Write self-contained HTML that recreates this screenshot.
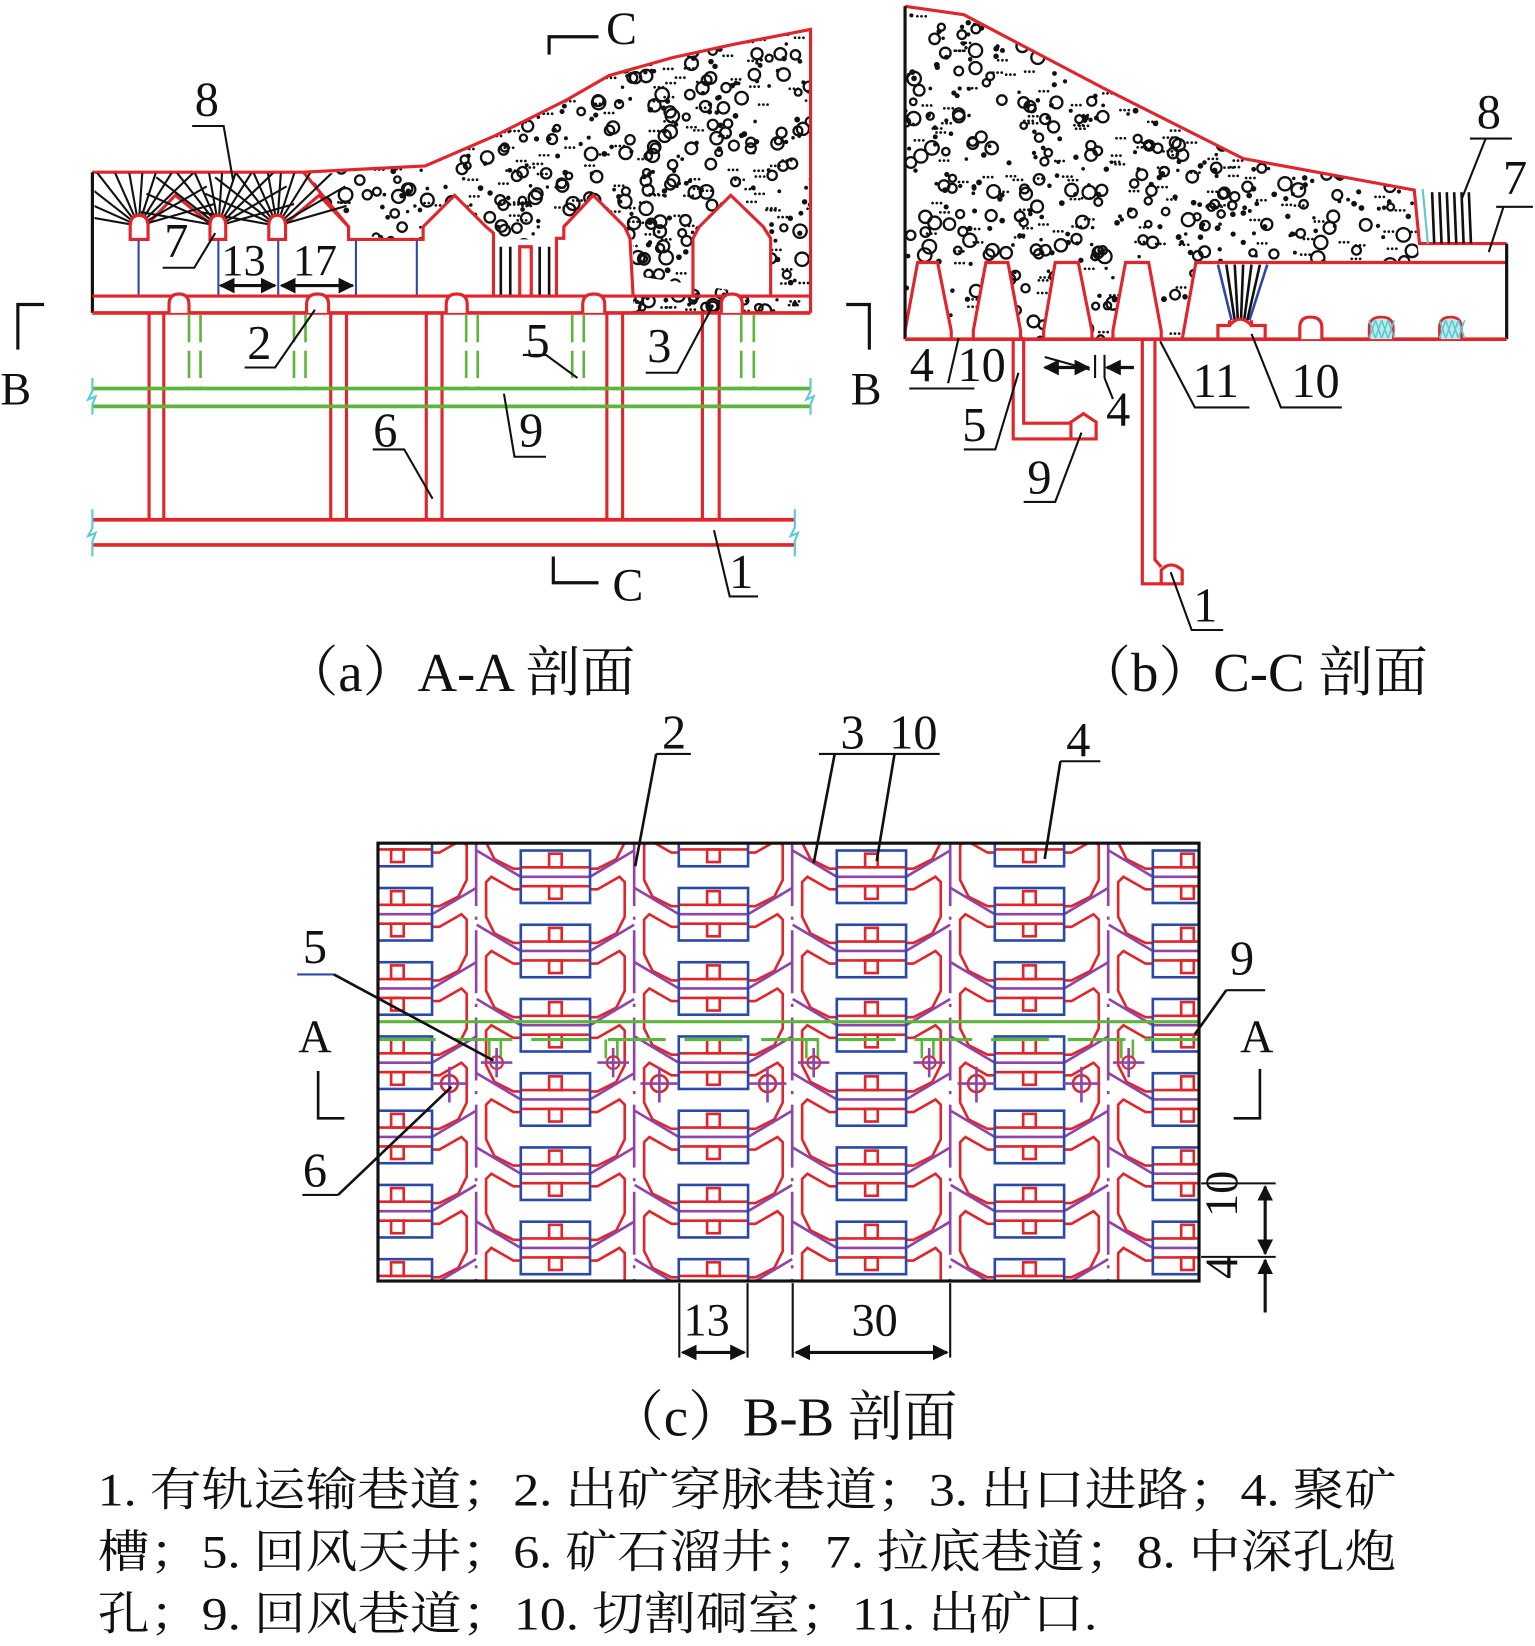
<!DOCTYPE html>
<html><head><meta charset="utf-8">
<style>
html,body{margin:0;padding:0;background:#fff;}
svg{display:block;}
text{font-family:"Liberation Serif","Noto Serif CJK SC",serif;fill:#111;}
</style></head>
<body>
<svg id="s" xmlns="http://www.w3.org/2000/svg" width="1535" height="1646" viewBox="0 0 1462 1567.6" preserveAspectRatio="none">
<defs>
<marker id="ar" viewBox="0 0 10 10" refX="9" refY="5" markerWidth="5" markerHeight="5" orient="auto-start-reverse"><path d="M0,0L10,5L0,10z" fill="#111"/></marker>
<clipPath id="rockA"><polygon points="289,164 405,158 470,130 540,95 580,72 640,55 700,42 772,28 772,298 603,298 603,228 332,228 332,216"/></clipPath>
<clipPath id="rockB"><polygon points="862,6 918,14 1053,85 1184,151 1347,181 1350,232 1352,250 1139,250 1126,323 862,323"/></clipPath>
<clipPath id="fanA"><rect x="90" y="165" width="240" height="115"/></clipPath>
<clipPath id="frameC"><rect x="360" y="803" width="782" height="417"/></clipPath>
</defs>
<g id="g"></g>
</svg>
<script>
const NS="http://www.w3.org/2000/svg";
const G=document.getElementById('g');
function el(t,a,p){const e=document.createElementNS(NS,t);for(const k in a)e.setAttribute(k,a[k]);(p||G).appendChild(e);return e;}
function L(x1,y1,x2,y2,c,w,p,extra){const a={x1,y1,x2,y2,stroke:c||'#111','stroke-width':w||2};if(extra)Object.assign(a,extra);return el('line',a,p);}
function P(pts,c,w,f,p,closed){return el(closed?'polygon':'polyline',{points:pts,stroke:c||'#111','stroke-width':w||2,fill:f||'none','stroke-linejoin':'miter'},p);}
function T(s,x,y,sz,anc,p,extra){const a={x,y,'font-size':sz||46,'text-anchor':anc||'middle'};if(extra)Object.assign(a,extra);const e=el('text',a,p);e.textContent=s;return e;}
const R='#e0252b',B='#2b4aa8',GR='#5db53c',PU='#8e44a8',CY='#5cc8d0';
let seed=7;function rnd(){seed=(seed*16807)%2147483647;return seed/2147483647;}
function rock(clip,x0,y0,w,h,n){
  const g=el('g',{'clip-path':'url(#'+clip+')'});
  for(let i=0;i<n;i++){const x=x0+rnd()*w,y=y0+rnd()*h,t=rnd();
    if(t<0.35){el('circle',{cx:x,cy:y,r:3+rnd()*3.5,fill:'none',stroke:'#111','stroke-width':2.2},g);}
    else if(t<0.75){el('circle',{cx:x,cy:y,r:1.6+rnd()*1.2,fill:'#111'},g);}
    else{for(let j=0;j<3;j++)el('circle',{cx:x+j*4,cy:y,r:1.3,fill:'#111'},g);}
  }
}
/* ===== Panel (a) ===== */
rock('rockA',289,28,483,270,900);
P('141,213 167,186 200,213','none',0,'#fff',null,true);
P('272,213 304,186 332,216 332,228 403,228 403,216 433,186 463,216 470,222 470,282 530,282 530,227 537,227 537,216 565,186 595,216 600,227 603,282 660,282 660,227 666,216 696,186 727,216 734,227 734,282','none',0,'#fff',null,true);
P('289,164 405,158 470,130 540,95 580,72 640,55 700,42 772,28 772,298',R,3);
L(88,164,289,164,R,3);
L(88,164,88,298,'#111',3);
L(289,164,332,216,R,3);
P('141,213 167,186 200,213',R,3);
P('272,213 304,186 332,216 332,228 403,228 403,216 433,186 463,216 470,222 470,282',R,3);
P('530,282 530,227 537,227 537,216 565,186 595,216 600,227 603,282',R,3);
P('660,282 660,227 666,216 696,186 727,216 734,227 734,282',R,3);
[477,486,514,523].forEach(x=>L(x,235,x,282,'#111',2.5));
P('495,282 495,235 506,235 506,282',R,3);
const fg=el('g',{'clip-path':'url(#fanA)'});
[132,208,264].forEach(cx=>{for(let a=-170;a<=-10;a+=14){const r=a*Math.PI/180;L(cx,215,cx+75*Math.cos(r),215+75*Math.sin(r),'#111',2,fg);}});
[[124,141],[200,215],[256,272]].forEach(([a,b])=>{const m=(a+b)/2,r=(b-a)/2;el('path',{d:`M${a},228 L${a},${213+r*0.3} Q${a},${205} ${m},205 Q${b},205 ${b},${213+r*0.3} L${b},228 Z`,fill:'#fff',stroke:R,'stroke-width':3});});
[132,208,265,339,397].forEach(x=>L(x,229,x,282,B,2));
L(88,282,772,282,R,3);L(88,298,772,298,R,3.5);
[[161,180],[292,313],[425,445],[555,576],[687,707]].forEach(([a,b])=>{el('path',{d:`M${a},298 L${a},290 Q${a},280 ${(a+b)/2},280 Q${b},280 ${b},290 L${b},298`,fill:'#fff',stroke:R,'stroke-width':3});});
[[142,156],[315,330],[406,421],[578,593],[669,685]].forEach(([a,b])=>{L(a,298,a,495,R,3);L(b,298,b,495,R,3);});
[[180,191],[280,291],[444,455],[545,556],[706,718]].forEach(([a,b])=>{[a,b].forEach(x=>L(x,300,x,370,GR,2.5,null,{'stroke-dasharray':'26 8'}));});
L(88,370,772,370,GR,3.5);L(88,387,772,387,GR,3.5);
L(88,495,757,495,R,3.5);L(88,519,757,519,R,3.5);
[[88,360,395],[772,360,395],[88,485,530],[757,485,530]].forEach(([x,a,b])=>{P(`${x},${a} ${x},${(a+b)/2-5} ${x-4},${(a+b)/2+3} ${x+3},${(a+b)/2} ${x},${(a+b)/2+8} ${x},${b}`,CY,2);});
P('17,333 17,290 42,290','#111',3);T('B',15,385,44);
P('828,333 828,290 806,290','#111',3);T('B',825,385,44);
P('523,52 523,35 570,35','#111',3);T('C',592,42,44);
P('527,530 527,555 570,555','#111',3);T('C',598,572,44);
T('8',197,110);P('183,120 213,120 222,172','#111',2);
T('7',168,245);P('155,255 185,255 205,222','#111',2);
T('13',232,262,42);T('17',300,262,42);
L(210,272,262,272,'#111',3,null,{'marker-start':'url(#ar)','marker-end':'url(#ar)'});
L(268,272,336,272,'#111',3,null,{'marker-start':'url(#ar)','marker-end':'url(#ar)'});
T('2',247,342);P('233,350 262,350 300,295','#111',2);
T('5',512,340);P('498,338 520,338 550,360','#111',2);
T('3',628,345);P('615,355 645,355 678,293','#111',2);
T('9',506,425);P('480,375 490,435 520,435','#111',2);
T('6',367,425);P('355,428 385,428 412,475','#111',2);
T('1',706,560);P('680,505 695,568 722,568','#111',2);
T('（a）A-A 剖面',270,658,52,'start',null,{textLength:335,lengthAdjust:'spacingAndGlyphs'});
/* ===== Panel (b) ===== */
rock('rockB',862,6,490,320,850);
const pillars=[[862,315,874,250,893,250,906,315],[927,315,939,250,960,250,972,315],[994,315,1005,250,1027,250,1040,315],[1060,315,1072,250,1094,250,1106,315]];
pillars.forEach(p=>{P(`${p[0]},323 ${p[0]},${p[1]} ${p[2]},${p[3]} ${p[4]},${p[5]} ${p[6]},${p[7]} ${p[6]},323`,R,3,'#fff',null,false);});
el('polygon',{points:'1126,323 1139,250 1435,250 1435,323',fill:'#fff'});
P('1126,323 1139,250 1435,250',R,3);
P('862,6 918,14 1053,85 1184,151 1347,181 1352,232 1435,232',R,3);
L(1435,232,1435,323,'#111',3);L(862,6,862,323,'#111',3);
L(862,323,1435,323,R,3.5);
L(1355,180,1360,232,CY,2);
for(let i=0;i<6;i++)L(1364+i*7,183,1366+i*7,232,'#111',2.5);
L(1160,252,1173,305,B,2.5);L(1207,252,1190,305,B,2.5);
for(let i=0;i<5;i++)L(1168+i*8,252,1176+i*3,305,'#111',2.5);
P('1160,323 1160,310 1171,310 1171,305',R,3);P('1205,323 1205,310 1192,310 1192,305',R,3);
el('path',{d:'M1171,310 Q1181,298 1192,310',fill:'none',stroke:R,'stroke-width':3});
el('path',{d:'M1238,323 L1238,312 Q1238,302 1248,302 Q1259,302 1259,312 L1259,323',fill:'#fff',stroke:R,'stroke-width':3});
[[1304,1327],[1371,1392]].forEach(([a,b])=>{el('path',{d:`M${a},323 L${a},312 Q${a},302 ${(a+b)/2},302 Q${b},302 ${b},312 L${b},323`,fill:'#bfe9ec',stroke:R,'stroke-width':2.5});
 for(let k=0;k<4;k++){L(a+k*6,305,a+6+k*6,322,CY,1.5);L(a+6+k*6,305,a+k*6,322,CY,1.5);}});
P('965,323 965,418 1030,418',R,3);P('975,323 975,403 1020,403',R,3);
el('path',{d:'M1020,418 L1020,402 L1032,394 L1044,402 L1044,418 Z',fill:'#fff',stroke:R,'stroke-width':3});
P('1088,323 1088,556 1118,556',R,3);P('1100,323 1100,533 1106,540',R,3);
el('path',{d:'M1106,556 L1106,543 Q1115,533 1126,543 L1126,556 Z',fill:'#fff',stroke:R,'stroke-width':3});
T('8',1418,122);P('1400,132 1440,132','#111',2);L(1415,132,1392,190,'#111',2);
T('7',1443,185);P('1425,197 1460,197','#111',2);L(1432,197,1418,240,'#111',2);
T('4',878,363);T('10',935,363);L(903,365,913,322,'#111',2);L(866,370,928,370,'#111',2);
L(995,340,1038,352,'#111',2);
L(995,350,1037,350,'#111',3,null,{'marker-start':'url(#ar)','marker-end':'url(#ar)'});
L(1043,338,1043,360,'#111',2);L(1052,338,1052,360,'#111',2);
L(1080,350,1054,350,'#111',3,null,{'marker-end':'url(#ar)'});
T('4',1065,405);L(1052,360,1060,380,'#111',2);
T('11',1158,378);P('1105,325 1138,388 1190,388','#111',2);
T('10',1253,378);P('1192,318 1220,388 1278,388','#111',2);
T('5',928,420);P('970,355 948,428 918,428','#111',2);
T('9',990,470);P('1030,412 1005,478 975,478','#111',2);
T('1',1148,592);P('1115,545 1135,600 1165,600','#111',2);
T('（b）C-C 剖面',1025,658,52,'start',null,{textLength:335,lengthAdjust:'spacingAndGlyphs'});
/* ===== Panel (c) ===== */
const cg=el('g',{'clip-path':'url(#frameC)'});
const pitch=70.7;
for(let i=0;i<6;i++){const cx=378.5+150.5*i,off=(i%2==0)?-35:0;
  L(cx+75,803,cx+75,1220,PU,2.5,cg,{'stroke-dasharray':'60 10 3 10'});
  for(let k=-1;k<8;k++){const y0=810+off+pitch*k,Rx=cx+33,Lx=cx-33;
    P(`${Rx},${y0+37} ${Rx+7},${y0+37} ${Rx+28},${y0+25} ${Rx+33},${y0+30} ${Rx+33},${y0+63} ${Rx+25},${y0+79} ${Rx+7},${y0+88} ${Rx},${y0+88}`,R,2.5,'none',cg);
    P(`${Lx},${y0+37} ${Lx-7},${y0+37} ${Lx-28},${y0+25} ${Lx-33},${y0+30} ${Lx-33},${y0+63} ${Lx-25},${y0+79} ${Lx-7},${y0+88} ${Lx},${y0+88}`,R,2.5,'none',cg);
    P(`${cx-75},${y0} ${Lx},${y0+25} ${Rx},${y0+25} ${cx+75},${y0}`,PU,2.5,'none',cg);
    L(Lx,y0+16,Rx,y0+16,R,2.5,cg);L(Lx,y0+34,Rx,y0+34,R,2.5,cg);
    el('rect',{x:cx-6,y:y0+3,width:12,height:13,fill:'none',stroke:R,'stroke-width':2.5},cg);
    el('rect',{x:cx-6,y:y0+34,width:12,height:12,fill:'none',stroke:R,'stroke-width':2.5},cg);
    el('rect',{x:Lx,y:y0,width:66,height:50,fill:'none',stroke:B,'stroke-width':2.5},cg);
  }
}
L(360,973,1142,973,GR,3,cg);
L(360,990,1142,990,GR,3,cg,{'stroke-dasharray':'55 18'});
[473,584,775,885,1075].forEach(x=>{P(`${x-7},990 ${x-7},1008`,GR,2.5,'none',cg);P(`${x+4},990 ${x+4},1008`,GR,2.5,'none',cg);
 el('circle',{cx:x,cy:1012,r:6,fill:'none',stroke:R,'stroke-width':2},cg);L(x-15,1012,x+15,1012,PU,2.5,cg);L(x,998,x,1026,PU,2.5,cg);});
[428,628,731,930,1030].forEach(x=>{el('circle',{cx:x,cy:1032,r:8,fill:'none',stroke:R,'stroke-width':2.5},cg);L(x-18,1032,x+18,1032,PU,2.5,cg);L(x,1016,x,1050,PU,2.5,cg);});
el('rect',{x:360,y:803,width:782,height:417,fill:'none',stroke:'#111','stroke-width':3});
L(647,1222,647,1293,'#111',2);L(712,1222,712,1293,'#111',2);T('13',673,1272,44);
L(650,1288,709,1288,'#111',3,null,{'marker-start':'url(#ar)','marker-end':'url(#ar)'});
L(755,1222,755,1293,'#111',2);L(905,1222,905,1293,'#111',2);T('30',833,1272,44);
L(758,1288,902,1288,'#111',3,null,{'marker-start':'url(#ar)','marker-end':'url(#ar)'});
L(1144,1127,1215,1127,'#111',2);L(1144,1197,1215,1197,'#111',2);
L(1205,1130,1205,1194,'#111',3,null,{'marker-start':'url(#ar)','marker-end':'url(#ar)'});
L(1205,1250,1205,1200,'#111',3,null,{'marker-end':'url(#ar)'});
T('10',1193,1152,44,'middle',null,{transform:'rotate(-90 1178 1152)'});
T('4',1193,1222,44,'middle',null,{transform:'rotate(-90 1178 1222)'});
T('2',642,713);P('625,718 658,718','#111',2);L(625,718,605,825,'#111',2.5);
T('3',812,713);T('10',870,713);L(780,718,895,718,'#111',2);L(795,718,775,822,'#111',2.5);L(852,718,835,820,'#111',2.5);
T('4',1027,720);L(1010,725,1048,725,'#111',2);L(1010,725,995,818,'#111',2.5);
T('5',300,917);L(283,928,318,928,B,2);L(318,928,470,1010,'#111',2.5);
T('9',1183,928);L(1168,943,1205,943,'#111',2);L(1168,943,1138,985,'#111',2.5);
T('6',300,1130);L(288,1138,322,1138,'#111',2);L(322,1138,430,1035,'#111',2.5);
T('A',300,1002,44);P('303,1020 303,1065 328,1065','#111',2.5);
T('A',1197,1002,44);P('1200,1018 1200,1065 1175,1065','#111',2.5);
T('（c）B-B 剖面',580,1367,52,'start',null,{textLength:332,lengthAdjust:'spacingAndGlyphs'});
T('1. 有轨运输巷道；2. 出矿穿脉巷道；3. 出口进路；4. 聚矿',93,1434,44,'start',null,{textLength:1237,lengthAdjust:'spacingAndGlyphs'});
T('槽；5. 回风天井；6. 矿石溜井；7. 拉底巷道；8. 中深孔炮',93,1493,44,'start',null,{textLength:1237,lengthAdjust:'spacingAndGlyphs'});
T('孔；9. 回风巷道；10. 切割硐室；11. 出矿口.',93,1552,44,'start',null,{textLength:952,lengthAdjust:'spacingAndGlyphs'});
</script>
</body></html>
